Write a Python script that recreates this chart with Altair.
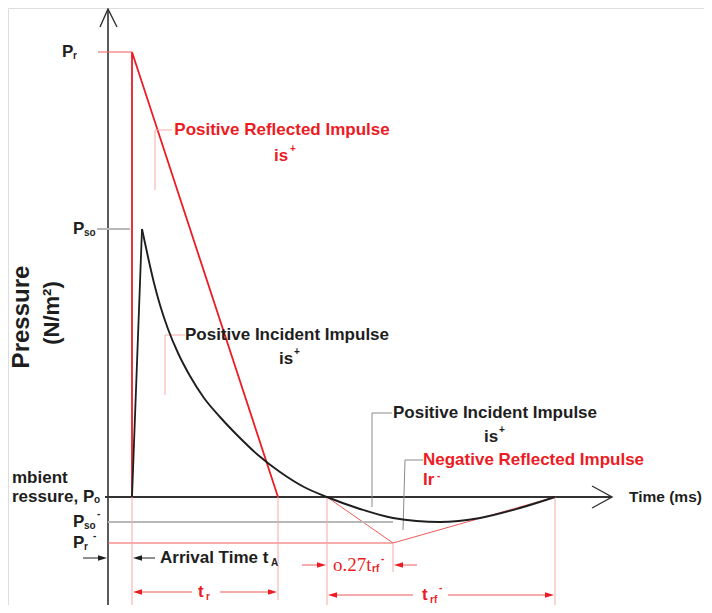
import altair as alt
import pandas as pd

# ---------------- values ----------------
# time / pressure units, origin where the two axes cross
P_R = 445        # peak reflected pressure
P_SO = 268       # peak incident pressure
P_SO_NEG = -25   # incident negative pressure
P_R_NEG = -46    # reflected negative pressure
T_A = 24         # arrival time
T_R_END = 170    # end of positive reflected phase
T_ZERO = 219     # end of positive incident phase
T_R_MIN = 285    # time of reflected negative peak
T_END = 447      # end of negative phase

# incident (Friedlander-like) curve
inc_t = [34, 40, 46, 52, 60, 70, 82, 96, 112, 130, 150, 172, 196, 219, 252, 285, 332, 372, 412, 447]
inc_p = [268, 240, 214, 192, 168, 144, 121, 99, 80, 61, 42, 25, 10, 0, -12, -21, -25, -21, -11, 0]
rise_t = [T_A, 34]
rise_p = [0, P_SO]

# reflected pressure, positive and negative phases
refl_t = [T_A, T_A, T_R_END]
refl_p = [0, P_R, 0]
neg_refl_t = [T_ZERO, T_R_MIN, T_END]
neg_refl_p = [0, P_R_NEG, 0]

RED = "#ec1c24"
RED_THIN = "#f05a5a"
PINK = "#f6a8a8"
GRAY = "#b8b8b8"
GRAY_D = "#8a8a8a"
DARK = "#333333"
BLACK = "#1e1e1e"

X = alt.X("t:Q", scale=alt.Scale(domain=[-100, 596], nice=False, zero=False), axis=None)
Y = alt.Y("p:Q", scale=alt.Scale(domain=[-108, 489], nice=False, zero=False), axis=None)

# ---------------- straight annotation lines ----------------
segments = [
    # axes and arrow heads
    ("yaxis", DARK, 1.6, [(0, -108), (0, 488)]),
    ("yarrow", DARK, 1.4, [(-8, 470), (0, 488), (9, 470)]),
    ("xaxis", DARK, 2.0, [(-3, 0), (504, 0)]),
    ("xarrow", DARK, 1.4, [(484, 11), (504, 0), (484, -11)]),
    # reflected pressure
    ("refl", RED, 1.8, list(zip(refl_t, refl_p))),
    ("negrefl", RED_THIN, 1.0, list(zip(neg_refl_t, neg_refl_p))),
    ("prtick", RED_THIN, 1.0, [(-10, P_R), (T_A, P_R)]),
    ("prneg", RED_THIN, 1.0, [(0, P_R_NEG), (T_R_MIN, P_R_NEG)]),
    # incident levels
    ("psotick", GRAY, 2.0, [(-11, P_SO), (22, P_SO)]),
    ("psoneg", GRAY, 2.0, [(0, P_SO_NEG), (T_R_MIN, P_SO_NEG)]),
    # extension lines for the dimensions
    ("ext1", PINK, 1.0, [(T_A, 0), (T_A, -108)]),
    ("ext2", PINK, 1.0, [(T_R_END, 0), (T_R_END, -103)]),
    ("ext3", PINK, 1.0, [(T_ZERO, 0), (T_ZERO, -108)]),
    ("ext4", PINK, 1.0, [(T_R_MIN, P_R_NEG), (T_R_MIN, -75)]),
    ("ext5", PINK, 1.0, [(T_END, 0), (T_END, -108)]),
    # leaders
    ("lead1", PINK, 1.0, [(64, 367), (47, 367), (47, 307)]),
    ("lead2", PINK, 1.0, [(77, 162), (57, 162), (57, 102)]),
    ("lead3", GRAY_D, 1.0, [(284, 84), (264, 84), (264, -10)]),
    ("lead4", GRAY_D, 1.0, [(315, 37), (297, 37), (295, -33)]),
    # dimension lines
    ("arrA", BLACK, 1.0, [(-25, -61), (-9, -61)]),
    ("arrB", BLACK, 1.0, [(33, -61), (47, -61)]),
    ("tr1", RED_THIN, 1.0, [(33, -95), (84, -95)]),
    ("tr2", RED_THIN, 1.0, [(112, -95), (161, -95)]),
    ("q1", RED_THIN, 1.0, [(194, -68), (210, -68)]),
    ("q2", RED_THIN, 1.0, [(294, -68), (309, -68)]),
    ("trn1", RED_THIN, 1.0, [(228, -98), (305, -98)]),
    ("trn2", RED_THIN, 1.0, [(340, -98), (438, -98)]),
    # incident rise
    ("rise", BLACK, 1.8, list(zip(rise_t, rise_p))),
]
rows = []
for g, c, w, pts in segments:
    for i, (t, p) in enumerate(pts):
        rows.append({"g": g, "i": i, "t": t, "p": p, "c": c, "w": w})
lines_df = pd.DataFrame(rows)

lines = alt.Chart(lines_df).mark_line(interpolate="linear", clip=False).encode(
    x=X, y=Y, detail="g:N", order="i:Q",
    color=alt.Color("c:N", scale=None),
    strokeWidth=alt.StrokeWidth("w:Q", scale=None),
)

curve_df = pd.DataFrame({"t": inc_t, "p": inc_p, "i": range(len(inc_t))})
curve = alt.Chart(curve_df).mark_line(interpolate="monotone", color=BLACK, strokeWidth=1.9).encode(
    x=X, y=Y, order="i:Q"
)

# ---------------- arrow heads on dimension lines ----------------
arrow_df = pd.DataFrame([
    {"t": -1, "p": -61, "a": 0, "c": BLACK},
    {"t": T_A + 1, "p": -61, "a": 180, "c": BLACK},
    {"t": T_A + 1, "p": -95, "a": 180, "c": RED},
    {"t": T_R_END - 1, "p": -95, "a": 0, "c": RED},
    {"t": T_ZERO - 1, "p": -68, "a": 0, "c": RED},
    {"t": T_R_MIN + 1, "p": -68, "a": 180, "c": RED},
    {"t": T_ZERO + 1, "p": -98, "a": 180, "c": RED},
    {"t": T_END - 1, "p": -98, "a": 0, "c": RED},
])
arrows = alt.Chart(arrow_df).mark_point(
    shape="M-1,-0.3L0,0L-1,0.3Z", filled=True, size=324, opacity=1, strokeWidth=0
).encode(x=X, y=Y, angle=alt.Angle("a:Q", scale=None), color=alt.Color("c:N", scale=None))

# ---------------- texts ----------------
def texts(data, **kw):
    df = pd.DataFrame(data, columns=["s", "t", "p", "c"])
    base = dict(baseline="middle", font="Liberation Sans", fontWeight="bold")
    base.update(kw)
    return alt.Chart(df).mark_text(**base).encode(
        x=X, y=Y, text="s:N", color=alt.Color("c:N", scale=None)
    )

center_big = texts([
    ("Positive Reflected Impulse", 174, 367, RED),
    ("is", 173, 341, RED),
    ("Positive Incident Impulse", 179, 162, BLACK),
    ("is", 178, 138, BLACK),
    ("Positive Incident Impulse", 387, 84, BLACK),
    ("is", 383, 60, BLACK),
], align="center", fontSize=17)

left_big = texts([
    ("Negative Reflected Impulse", 315, 37, RED),
    ("Ir", 315, 17, RED),
    ("Arrival Time t", 52, -61, BLACK),
    ("mbient", -96, 19, BLACK),
    ("ressure, P", -96, 0, BLACK),
    ("P", -46, P_R, BLACK),
    ("P", -35, P_SO, BLACK),
    ("P", -35, P_SO_NEG, BLACK),
    ("P", -35, P_R_NEG, BLACK),
    ("t", 90, -95, RED),
    ("t", 314, -98, RED),
], align="left", fontSize=17)

time_lab = texts([("Time (ms)", 521, 0, BLACK)], align="left", fontSize=15.5)

small = texts([
    ("+", 182, 348, RED),
    ("+", 186, 145, BLACK),
    ("+", 391, 67, BLACK),
    ("-", 329, 21, RED),
    ("A", 163, -66, BLACK),
    ("o", -14, -3, BLACK),
    ("r", -35, 441, BLACK),
    ("so", -24, 264, BLACK),
    ("so", -24, -29, BLACK),
    ("-", -11, -17, BLACK),
    ("r", -24, -50, BLACK),
    ("-", -15, -39, BLACK),
    ("r", 98, -100, RED),
    ("rf", 322, -103, RED),
    ("-", 331, -91, RED),
    ("rf", 264, -72, RED),
    ("-", 273, -62, RED),
], align="left", fontSize=10)

serif = texts([
    ("o.27t", 225, -68, RED),
], align="left", fontSize=19, font="Liberation Serif", fontWeight="normal")

ylab1 = texts([("Pressure", -86, 180, BLACK)], align="center", fontSize=24, angle=270)
ylab2 = texts([("(N/m²)", -56, 184, BLACK)], align="center", fontSize=22, angle=270)

chart = alt.layer(
    lines, curve, arrows, center_big, left_big, time_lab, small, serif, ylab1, ylab2
).properties(
    width=696, height=597, autosize=alt.AutoSizeParams(type="none"), padding=0
).configure_view(stroke=None).configure(background="white")

chart.save("out.html", embed_options={"renderer": "svg", "actions": False})
